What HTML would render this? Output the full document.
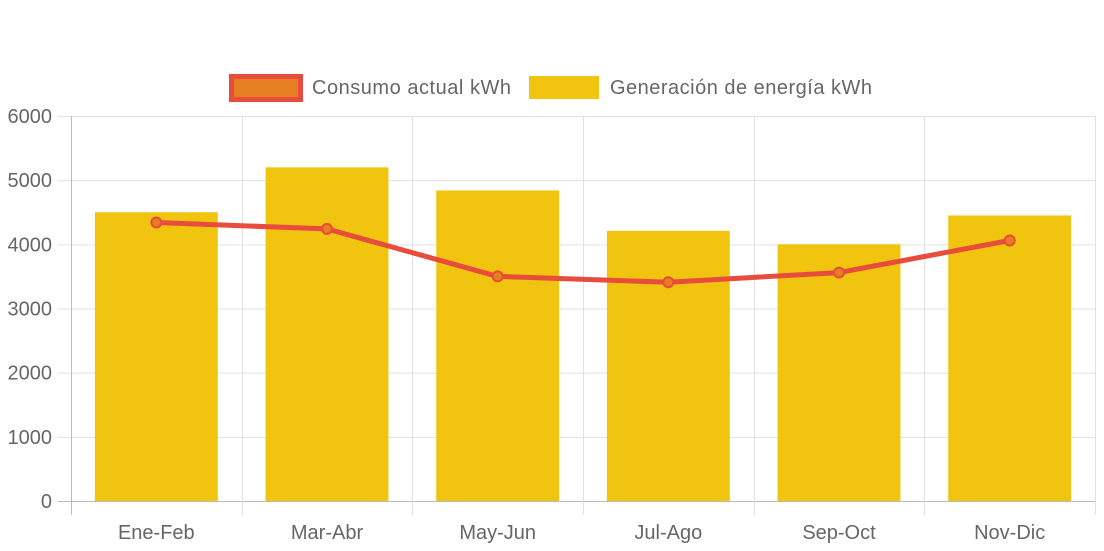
<!DOCTYPE html>
<html><head><meta charset="utf-8"><style>
body{margin:0;background:#fff;}
svg{display:block;font-family:"Liberation Sans",Arial,sans-serif;}
</style></head><body>
<svg id="chart" width="1104" height="551">
<g id="legend">
  <g>
    <rect x="231.5" y="76.5" width="69" height="23" fill="#e67e22" stroke="#e74c3c" stroke-width="5"/>
    <text x="312" y="94" font-size="20" fill="#666" textLength="199">Consumo actual kWh</text>
  </g>
  <g>
    <rect x="529" y="76" width="70" height="23" fill="#f1c40f"/>
    <text x="610" y="94" font-size="20" fill="#666" textLength="262">Generación de energía kWh</text>
  </g>
</g>
<g id="grid"></g><g id="bars"></g><g id="line"></g><g id="labels"></g>
</svg>
<script>
const categories=["Ene-Feb","Mar-Abr","May-Jun","Jul-Ago","Sep-Oct","Nov-Dic"];
const generacion=[4500,5200,4840,4210,4000,4450];
const consumo=[4340,4240,3500,3410,3560,4060];
const yTicks=[0,1000,2000,3000,4000,5000,6000];
const NS="http://www.w3.org/2000/svg";
const L=71,R=1095,T=116,B=501,yMax=6000;
const bw=(R-L)/categories.length;
const y=v=>B-(v/yMax)*(B-T);
const xc=i=>L+bw*(i+0.5);
function mk(p,tag,a){const e=document.createElementNS(NS,tag);for(const k in a)e.setAttribute(k,a[k]);p.appendChild(e);return e;}
const grid=document.getElementById('grid'),bars=document.getElementById('bars'),line=document.getElementById('line'),labels=document.getElementById('labels');
yTicks.forEach(t=>{
  const g=mk(grid,'line',{x1:58,x2:R,y1:y(t)+0.5,y2:y(t)+0.5,stroke:t===0?'#bbb':'#e0e0e0','stroke-width':1});
  
  
  const tx=mk(labels,'text',{x:52,y:y(t)+7,'text-anchor':'end','font-size':20,fill:'#666'});
  tx.textContent=t;
  
  
});
for(let i=0;i<=categories.length;i++){
  const x=Math.round(L+bw*i)+0.5;
  const g=mk(grid,'line',{x1:x,x2:x,y1:T,y2:B+14,stroke:i===0?'#bbb':'#e0e0e0','stroke-width':1});
  
  
}
categories.forEach((c,i)=>{
  const w=bw*0.72;
  const r=mk(bars,'rect',{x:xc(i)-w/2,y:y(generacion[i]),width:w,height:B-y(generacion[i]),fill:'#f1c40f'});
  
  
  const tx=mk(labels,'text',{x:xc(i),y:539,'text-anchor':'middle','font-size':20,fill:'#666'});
  tx.textContent=c;
  
  
});
const pl=mk(line,'polyline',{points:consumo.map((v,i)=>xc(i)+','+y(v)).join(' '),fill:'none',stroke:'#e74c3c','stroke-width':5,'stroke-linejoin':'round'});


consumo.forEach((v,i)=>{
  const c=mk(line,'circle',{cx:xc(i),cy:y(v),r:5,fill:'#e67e22',stroke:'#e74c3c','stroke-width':2});
  
  
});
</script>
</body></html>
